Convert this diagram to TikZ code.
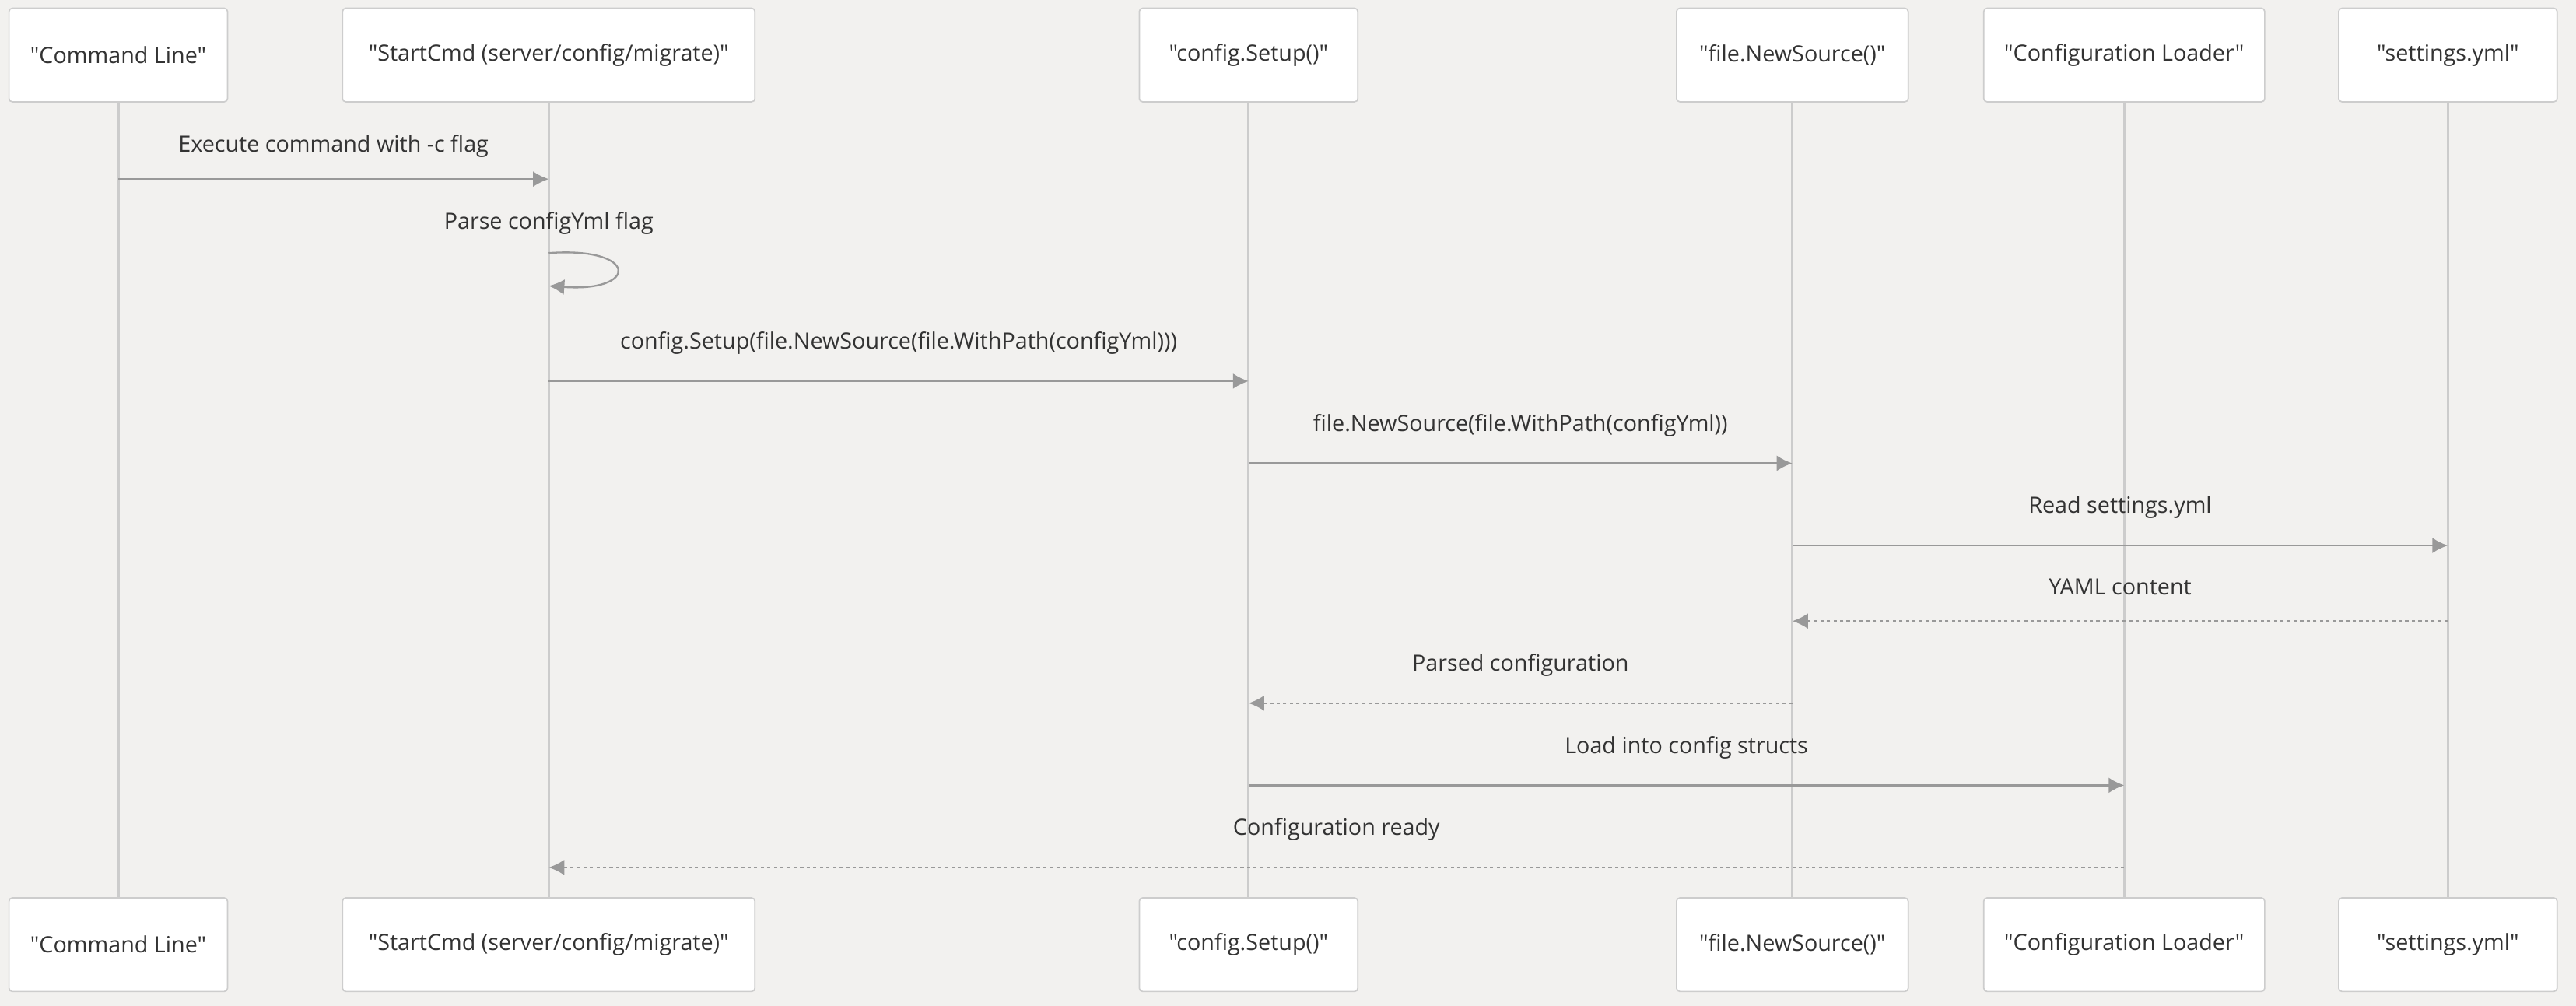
\documentclass[tikz,border=0pt]{standalone}
\usepackage{fontspec}
\setmainfont{Open Sans}[Ligatures=TeXOff]
\usetikzlibrary{arrows.meta}
\definecolor{bgcol}{HTML}{F2F1EF}
\definecolor{boxline}{HTML}{CDCDCD}
\definecolor{lifecol}{HTML}{CCCCCC}
\definecolor{msgcol}{HTML}{999999}
\definecolor{txtcol}{HTML}{333333}
\begin{document}
\begin{tikzpicture}[x=1pt, y=1pt,
    every node/.style={text=txtcol, font=\fontsize{13.6}{16}\selectfont},
    actor/.style={draw=boxline, fill=white, rounded corners=2pt, minimum height=57pt, inner sep=0pt, line width=0.8pt},
    life/.style={draw=lifecol, line width=1.4pt},
    msg/.style={draw=msgcol, line width=1.1pt, -{Latex[length=9.5pt,width=9.5pt]}},
    reply/.style={msg, dash pattern=on 2pt off 2pt},
  ]
  \fill[bgcol] (0,0) rectangle (1568,-612.3);

  % Participants (top and bottom) & lifelines
  \foreach \x/\w/\n/\t in {
      72/133/cl/{Command Line},
      334/251/sc/{StartCmd (server/config/migrate)},
      760/133/cs/{config.Setup()},
      1091/141/fns/{file.NewSource()},
      1293/171/cload/{Configuration Loader},
      1490/133/sy/{settings.yml}} {
    \node[actor, minimum width=\w pt] (\n-top) at (\x,-33.5) {"\t"};
    \node[actor, minimum width=\w pt] (\n-bot) at (\x,-575) {"\t"};
    \draw[life] (\n-top.south) -- (\n-bot.north);
  }

  % Self message
  \coordinate (self) at (0,-154);
  \node (parse) at (sc-top |- 0,-136) {Parse configYml flag};
  \draw[msg] (sc-top |- self) .. controls +(55,4) and +(55,-4) .. ++(0,-20);

  % Messages
  \foreach \a/\b/\yy/\d/\s/\t in {
      cl/sc/109/20/msg/{Execute command with -c flag},
      sc/cs/232/23/msg/{config.Setup(file.NewSource(file.WithPath(configYml)))},
      cs/fns/282/23/msg/{file.NewSource(file.WithPath(configYml))},
      fns/sy/332/23/msg/{Read settings.yml},
      sy/fns/378/21/reply/{YAML content},
      fns/cs/428/23/reply/{Parsed configuration},
      cs/cload/478/23/msg/{Load into config structs},
      cload/sc/528/23/reply/{Configuration ready}} {
    \coordinate (m) at (0,-\yy);
    \draw[\s] (\a-top |- m) -- (\b-top |- m) node[midway, yshift=\d pt] {\t};
  }
\end{tikzpicture}
\end{document}
